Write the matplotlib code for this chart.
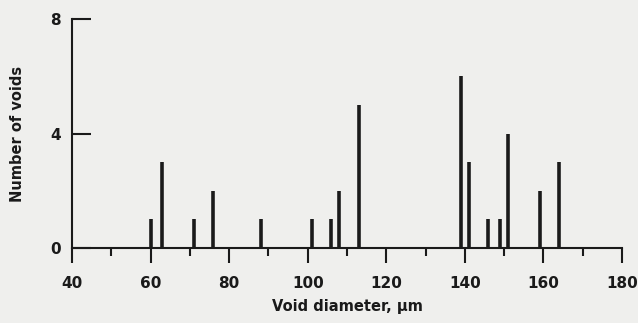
import matplotlib
matplotlib.use("Agg")
import matplotlib.pyplot as plt
from matplotlib.ticker import MultipleLocator

# Void size distribution
diameters = [60, 63, 71, 76, 88, 101, 106, 108, 113, 139, 141, 146, 149, 151, 159, 164]
counts = [1, 3, 1, 2, 1, 1, 1, 2, 5, 6, 3, 1, 1, 4, 2, 3]
x_ticks = [40, 60, 80, 100, 120, 140, 160, 180]
y_ticks = [0, 4, 8]

plt.rcParams['font.family'] = ['DejaVu Sans']
bg = '#efefed'
ink = '#1a1a1a'

fig = plt.figure(figsize=(6.38, 3.23), dpi=100, facecolor=bg)
ax = fig.add_axes([72 / 638, (323 - 248) / 323, 550 / 638, 229 / 323], facecolor=bg)

ax.vlines(diameters, 0, counts, colors=ink, linewidth=2.6, capstyle='butt')

ax.set_xlim(40, 180)
ax.set_ylim(0, 8)
for s in ('top', 'right'):
    ax.spines[s].set_visible(False)
for s in ('left', 'bottom'):
    ax.spines[s].set_color(ink)
    ax.spines[s].set_linewidth(1.5)

ax.set_xticks(x_ticks)
ax.xaxis.set_minor_locator(MultipleLocator(10))
ax.set_yticks(y_ticks)
ax.tick_params(axis='x', which='major', direction='out', length=11, width=1.5,
               color=ink, labelsize=11, pad=9, labelcolor=ink)
ax.tick_params(axis='x', which='minor', direction='out', length=6, width=1.5, color=ink)
ax.tick_params(axis='y', which='major', direction='in', length=14, width=1.5,
               color=ink, labelsize=11, pad=8, labelcolor=ink)
for lbl in ax.get_xticklabels() + ax.get_yticklabels():
    lbl.set_fontweight('bold')

ax.set_xlabel('Void diameter, µm', fontsize=10.5, fontweight='bold', color=ink, labelpad=6)
ax.set_ylabel('Number of voids', fontsize=10.5, fontweight='bold', color=ink, labelpad=18)

fig.savefig('out.png', dpi=100, facecolor=bg)
